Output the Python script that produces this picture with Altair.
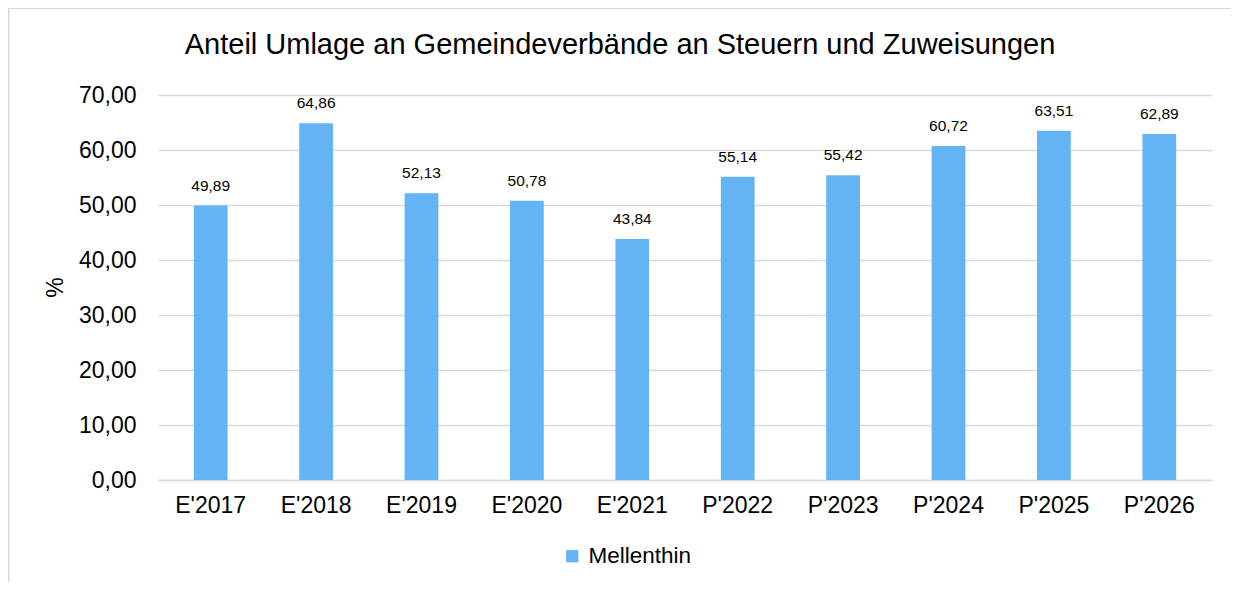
import altair as alt
import pandas as pd

categories = ["E'2017", "E'2018", "E'2019", "E'2020", "E'2021",
              "P'2022", "P'2023", "P'2024", "P'2025", "P'2026"]
values = [49.89, 64.86, 52.13, 50.78, 43.84, 55.14, 55.42, 60.72, 63.51, 62.89]
series = "Mellenthin"
title_text = "Anteil Umlage an Gemeindeverbände an Steuern und Zuweisungen"
y_ticks = [0, 10, 20, 30, 40, 50, 60, 70]

df = pd.DataFrame({"Jahr": categories, "Wert": values, "Serie": [series] * len(categories)})

BAR = "#63B3F5"
GRID = "#D9D9D9"
FONT = "Liberation Sans"

base = alt.Chart(df).encode(
    x=alt.X("Jahr:N", sort=categories,
            scale=alt.Scale(paddingInner=0.68, paddingOuter=0.34),
            axis=alt.Axis(title=None, labelAngle=0, labelFontSize=23, labelPadding=14,
                          ticks=False, domainColor=GRID, domainWidth=1.5,
                          labelColor="#000000", labelFont=FONT)),
)

bars = base.mark_bar(color=BAR).encode(
    y=alt.Y("Wert:Q", scale=alt.Scale(domain=[0, 70], nice=False),
            axis=alt.Axis(title="%", values=y_ticks, grid=True, gridColor=GRID, gridWidth=1.5,
                          domain=False, ticks=False, labelPadding=22, labelFontSize=23,
                          labelFont=FONT, labelColor="#000000",
                          labelExpr="replace(format(datum.value, '.2f'), '.', ',')",
                          titleFontSize=23, titleFont=FONT, titleFontWeight="normal",
                          titleColor="#000000", titleX=-103, titleY=192,
                          titleBaseline="middle", titleAngle=270)),
    fill=alt.Fill("Serie:N", scale=alt.Scale(range=[BAR]),
                  legend=alt.Legend(title=None, orient="none", legendX=403, legendY=450,
                                    symbolType="square", symbolSize=150, symbolStrokeWidth=0,
                                    labelFontSize=22.5, labelFont=FONT, labelColor="#000000",
                                    labelOffset=5)),
)

labels = base.mark_text(baseline="alphabetic", dy=-15, fontSize=15.5, font=FONT,
                        color="#000000").transform_calculate(
    lab="replace(format(datum.Wert, '.2f'), '.', ',')"
).encode(
    y="Wert:Q",
    text="lab:N",
)

one = pd.DataFrame({"k": [0]})
top_line = alt.Chart(one).mark_rule(color=GRID, strokeWidth=1.5, clip=False).encode(
    x=alt.value(-149.25), x2=alt.value(1100), y=alt.value(-86.75)
)
left_line = alt.Chart(one).mark_rule(color=GRID, strokeWidth=1.5, clip=False).encode(
    x=alt.value(-149.25), y=alt.value(-86.75), y2=alt.value(600)
)
title = alt.Chart(pd.DataFrame({"t": [title_text]})).mark_text(
    fontSize=29, font=FONT, color="#000000", align="center", baseline="middle", clip=False
).encode(
    x=alt.value(462), y=alt.value(-50), text="t:N"
)

chart = alt.layer(top_line, left_line, bars, labels, title).properties(
    width=1054, height=385,
    autosize=alt.AutoSizeParams(type="none"),
    padding={"left": 150, "top": 87, "right": 19, "bottom": 102},
).configure_view(stroke=None)

chart.save("out.html", embed_options={"renderer": "svg", "actions": False})
